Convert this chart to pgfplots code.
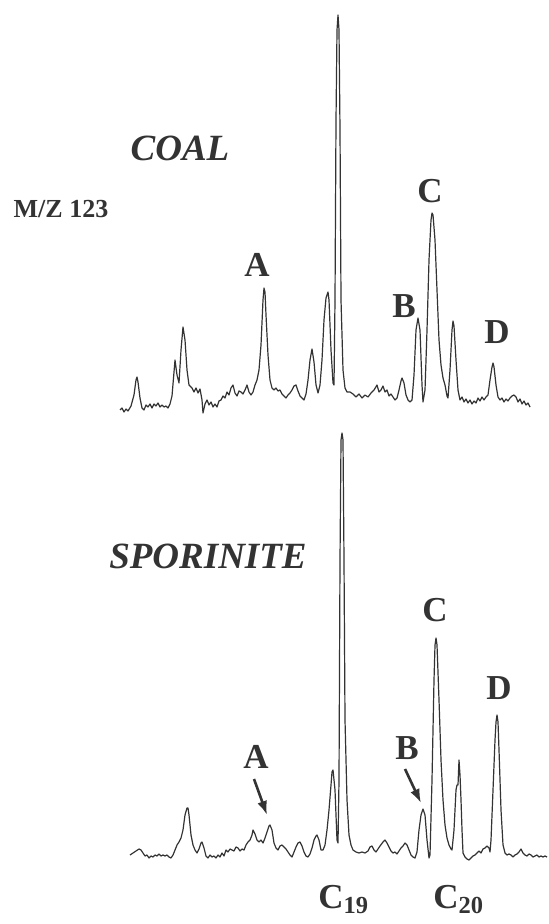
\documentclass[border=0pt]{standalone}
\usepackage{fontspec}
\setmainfont{Liberation Serif}
\usepackage{pgfplots}
\pgfplotsset{compat=1.18}
\usetikzlibrary{arrows.meta}
\definecolor{ink}{HTML}{333333}
\tikzset{
  lbl/.style={font=\fontsize{17.5}{17.5}\selectfont\bfseries, text=ink, inner sep=0pt},
  ttl/.style={font=\fontsize{18.5}{18.5}\selectfont\bfseries\itshape, text=ink, inner sep=0pt},
  pt/.style={-{Latex[length=7pt,width=5pt]}, line width=1.3pt, draw=ink}
}

\begin{document}
\begin{tikzpicture}
\begin{axis}[
  hide axis, scale only axis, width=274pt, height=462pt,
  xmin=0, xmax=548, ymin=0, ymax=924, y dir=reverse,
  clip=false
]
% coal trace, m/z 123 (pixel units of the scan)
\addplot[ink, line width=0.6pt, line join=round] coordinates {
(120,410)(122,408)(124,412)(126,409)(128,411)(131,406)(134,395)(136,380)(137,377)(138,382)
(140,398)(142,408)(144,410)(146,405)(148,407)(150,404)(152,408)(154,404)(156,406)(158,403)
(160,407)(162,405)(164,407)(166,406)(168,408)(170,404)(172,396)(174,372)(175,360)(177,375)
(179,383)(181,350)(183,327)(185,340)(187,370)(189,385)(192,388)(194,392)(196,388)(198,393)
(200,389)(202,400)(203,413)(205,404)(207,400)(209,405)(211,402)(213,407)(215,404)(217,407)
(219,401)(221,400)(223,396)(225,398)(227,392)(229,395)(231,388)(233,385)(235,393)(237,396)
(239,391)(241,392)(243,394)(245,390)(247,385)(249,392)(251,395)(253,392)(255,385)(257,380)
(259,370)(261,345)(263,300)(264,288)(265,292)(266,315)(268,355)(270,380)(272,388)(274,390)
(276,388)(278,391)(280,390)(282,394)(284,396)(286,398)(288,395)(290,393)(292,390)(294,386)
(296,385)(298,391)(300,396)(302,398)(304,400)(306,394)(308,380)(310,360)(312,349)(314,362)
(316,385)(318,393)(320,385)(322,360)(324,320)(326,298)(328,292)(329,300)(331,350)(333,383)
(334,385)(335,300)(336,120)(337,30)(338,15)(339,30)(340,130)(341,300)(343,370)(345,388)
(347,392)(350,392)(353,394)(356,397)(359,394)(362,398)(365,395)(368,397)(371,393)(374,390)
(377,385)(379,392)(381,390)(383,386)(385,392)(387,390)(389,396)(391,394)(393,397)(395,400)
(397,398)(399,390)(401,381)(402,378)(404,383)(406,395)(408,400)(410,402)(412,400)(414,375)
(416,330)(418,318)(420,330)(422,385)(423,402)(425,390)(427,330)(429,260)(431,220)(432,213)
(433,215)(435,240)(437,290)(439,340)(441,365)(443,378)(445,385)(447,396)(448,398)(450,370)
(452,330)(453,321)(454,326)(456,360)(458,390)(460,400)(462,397)(464,402)(466,399)(468,403)
(470,400)(472,404)(474,401)(476,403)(478,398)(480,401)(482,397)(484,400)(486,397)(488,395)
(490,380)(492,367)(493,363)(494,367)(496,385)(498,397)(500,400)(502,398)(504,402)(506,399)
(508,401)(510,398)(512,396)(514,395)(516,397)(518,402)(520,399)(522,404)(524,401)(526,405)
(528,403)(530,407)
};
% sporinite trace
\addplot[ink, line width=0.6pt, line join=round] coordinates {
(130,855)(133,853)(136,851)(139,849)(141,850)(143,853)(145,856)(147,855)(149,858)(151,856)
(153,857)(155,855)(157,856)(159,854)(161,856)(163,855)(165,856)(167,855)(169,857)(171,858)
(173,855)(175,850)(177,845)(179,842)(181,838)(183,830)(185,815)(187,808)(188,808)(189,815)
(191,835)(193,845)(195,850)(197,853)(199,849)(201,843)(202,842)(204,848)(206,856)(208,858)
(210,855)(212,857)(214,856)(216,858)(218,855)(220,857)(222,853)(224,856)(226,850)(228,852)
(230,849)(232,850)(234,851)(236,847)(238,848)(240,851)(242,849)(244,850)(246,845)(248,842)
(250,840)(252,835)(253,830)(255,834)(257,840)(259,842)(261,840)(263,843)(265,838)(267,832)
(269,826)(270,825)(272,830)(274,843)(276,848)(278,850)(280,846)(282,845)(284,847)(286,849)
(288,852)(290,855)(292,857)(294,852)(296,847)(298,843)(300,842)(302,846)(304,852)(306,856)
(308,857)(310,854)(312,848)(314,840)(316,836)(317,835)(319,840)(321,850)(323,850)(325,845)
(327,830)(329,810)(331,785)(332,772)(333,770)(335,790)(337,840)(338,843)(339,780)(340,560)
(341,440)(342,433)(343,440)(344,560)(345,720)(347,800)(349,835)(351,845)(353,850)(356,852)
(359,853)(362,852)(365,853)(368,851)(370,847)(372,846)(374,850)(376,852)(378,849)(380,846)
(383,842)(385,840)(387,843)(389,847)(391,851)(393,853)(395,852)(397,854)(399,851)(401,848)
(403,846)(405,843)(407,845)(409,850)(411,855)(413,857)(415,858)(417,852)(419,830)(421,815)
(423,809)(425,815)(427,840)(429,858)(430,855)(432,780)(434,680)(435,645)(436,638)(437,645)
(439,700)(441,760)(443,800)(445,825)(447,838)(449,845)(451,849)(452,850)(454,830)(456,790)
(457,785)(458,785)(459,760)(460,775)(461,800)(462,830)(463,853)(465,857)(467,859)(469,860)
(471,858)(473,856)(475,855)(477,853)(479,851)(481,853)(483,849)(485,848)(487,846)(489,848)
(490,852)(491,840)(493,790)(495,740)(496,722)(497,715)(498,722)(499,750)(501,810)(503,845)
(505,853)(507,855)(509,854)(511,855)(513,857)(515,855)(517,854)(519,852)(521,849)(523,853)
(525,855)(527,856)(529,854)(531,855)(533,857)(535,856)(537,855)(539,857)(541,856)(543,857)
(545,856)(547,857)
};
% titles and peak labels
\node[ttl] at (axis cs:180,148) {COAL};
\node[ttl] at (axis cs:208,556) {SPORINITE};
\node[lbl, font=\fontsize{13}{13}\selectfont\bfseries] at (axis cs:61,209) {M/Z 123};
\node[lbl] at (axis cs:257,265) {A};
\node[lbl] at (axis cs:404,306) {B};
\node[lbl] at (axis cs:430,191) {C};
\node[lbl] at (axis cs:497,332) {D};
\node[lbl] at (axis cs:256,757) {A};
\node[lbl] at (axis cs:407,748) {B};
\node[lbl] at (axis cs:435,610) {C};
\node[lbl] at (axis cs:499,688) {D};
\draw[pt] (axis cs:254,779) -- (axis cs:267,815);
\draw[pt] (axis cs:405,769) -- (axis cs:421,803);
\node[lbl, anchor=base west] at (axis cs:318,908) {C\textsubscript{19}};
\node[lbl, anchor=base west] at (axis cs:433,908) {C\textsubscript{20}};
\end{axis}
\pgfresetboundingbox
\path (current axis.south west) rectangle (current axis.north east);
\end{tikzpicture}
\end{document}
